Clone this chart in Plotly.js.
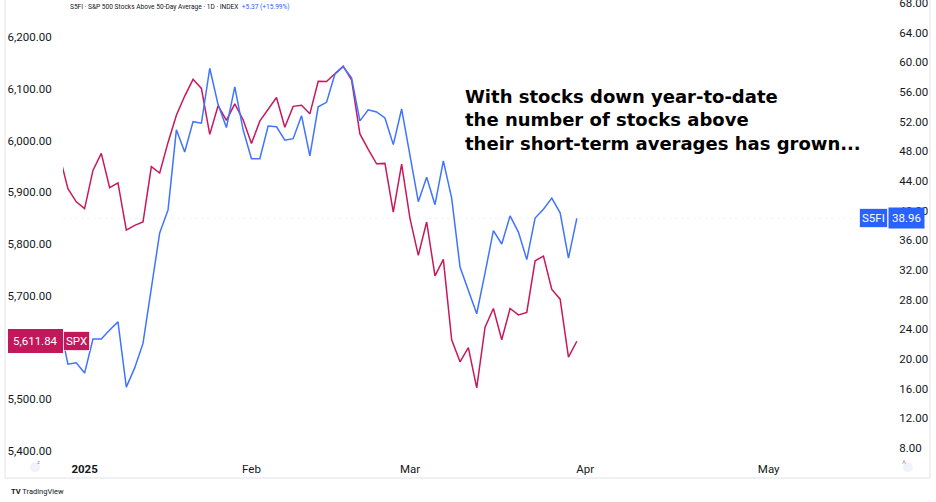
<!DOCTYPE html>
<html>
<head>
<meta charset="utf-8">
<script src="https://cdn.plot.ly/plotly-3.0.1.min.js"></script>
<style>
  html, body { margin: 0; padding: 0; background: #ffffff; }
  #chart { width: 936px; height: 502px; }
</style>
</head>
<body>
<div id="chart"></div>
<script>
// ---- data ----
const dates = [
  '2024-12-27','2024-12-30','2024-12-31',
  '2025-01-02','2025-01-03','2025-01-06','2025-01-07','2025-01-08','2025-01-10',
  '2025-01-13','2025-01-14','2025-01-15','2025-01-16','2025-01-17',
  '2025-01-21','2025-01-22','2025-01-23','2025-01-24',
  '2025-01-27','2025-01-28','2025-01-29','2025-01-30','2025-01-31',
  '2025-02-03','2025-02-04','2025-02-05','2025-02-06','2025-02-07',
  '2025-02-10','2025-02-11','2025-02-12','2025-02-13','2025-02-14',
  '2025-02-18','2025-02-19','2025-02-20','2025-02-21',
  '2025-02-24','2025-02-25','2025-02-26','2025-02-27','2025-02-28',
  '2025-03-03','2025-03-04','2025-03-05','2025-03-06','2025-03-07',
  '2025-03-10','2025-03-11','2025-03-12','2025-03-13','2025-03-14',
  '2025-03-17','2025-03-18','2025-03-19','2025-03-20','2025-03-21',
  '2025-03-24','2025-03-25','2025-03-26','2025-03-27','2025-03-28',
  '2025-03-31'
];

const spx = [
  5970.84, 5906.94, 5881.63,
  5868.55, 5942.47, 5975.38, 5909.03, 5918.25, 5827.04,
  5836.22, 5842.91, 5949.91, 5937.34, 5996.66,
  6049.24, 6086.37, 6118.71, 6101.24,
  6012.28, 6067.70, 6039.31, 6071.17, 6040.53,
  5994.57, 6037.88, 6061.48, 6083.57, 6025.99,
  6066.44, 6068.50, 6051.97, 6115.07, 6114.63,
  6129.58, 6144.15, 6117.52, 6013.13,
  5983.25, 5955.25, 5956.06, 5861.57, 5954.50,
  5849.72, 5778.15, 5842.63, 5738.52, 5770.20,
  5614.56, 5572.07, 5599.30, 5521.52, 5638.94,
  5675.12, 5614.66, 5675.29, 5662.89, 5667.56,
  5767.57, 5776.65, 5712.20, 5693.31, 5580.94,
  5611.84
];

const s5fi = [
  24.7, 19.3, 19.5,
  18.1, 22.7, 22.7, 23.9, 25.0, 16.2,
  18.8, 22.1, 29.3, 37.0, 40.1,
  50.9, 47.9, 52.0, 51.8,
  59.2, 54.3, 51.2, 56.7, 50.9,
  47.0, 47.0, 51.4, 51.3, 49.5,
  49.7, 52.8, 47.4, 54.0, 54.6,
  58.4, 59.4, 57.9, 52.1,
  53.6, 53.3, 52.5, 48.9, 53.7,
  47.5, 41.2, 44.5, 40.8, 46.7,
  41.7, 32.4, 29.3, 26.1, 31.6,
  37.3, 35.5, 39.3, 37.1, 33.4,
  39.0, 40.2, 41.7, 39.7, 33.59,
  38.96
];

const holidays = ['2024-12-25', '2025-01-01', '2025-01-09', '2025-01-20', '2025-02-17'];

const xTickVals = ['2025-01-02', '2025-02-03', '2025-03-03', '2025-04-01', '2025-05-01'];
const xTickText = ['<b>2025</b>', 'Feb', 'Mar', 'Apr', 'May'];

const headerName = 'S5FI · S&P 500 Stocks Above 50-Day Average · 1D · INDEX';
const headerChange = '+5.37 (+15.99%)';
const noteLines = ['With stocks down year-to-date', 'the number of stocks above', 'their short-term averages has grown...'];

// ---- styling ----
const RED = '#C8185C';
const RED_BOX = '#C2185B';
const BLUE = '#3F74FF';
const BLUE_BOX = '#2962FF';
const TXT = '#131722';
const AXFONT = { family: 'Roboto, sans-serif', size: 11.5, color: TXT };

const lastSpx = spx[spx.length - 1];
const lastS5 = s5fi[s5fi.length - 1];

const traces = [
  {
    x: dates, y: spx, type: 'scatter', mode: 'lines', name: 'SPX',
    line: { color: RED, width: 1.5 }, yaxis: 'y', hoverinfo: 'skip'
  },
  {
    x: dates, y: s5fi, type: 'scatter', mode: 'lines', name: 'S5FI',
    line: { color: BLUE, width: 1.5 }, yaxis: 'y2', hoverinfo: 'skip'
  }
];

const layout = {
  width: 936, height: 502,
  margin: { l: 63, r: 48, t: 0, b: 48, pad: 0 },
  paper_bgcolor: '#ffffff', plot_bgcolor: '#ffffff',
  showlegend: false,
  xaxis: {
    type: 'date',
    range: ['2024-12-27 09:50', '2025-05-21 07:12'],
    rangebreaks: [{ bounds: ['sat', 'mon'] }, { values: holidays }],
    tickmode: 'array', tickvals: xTickVals, ticktext: xTickText,
    showgrid: false, zeroline: false, showline: false,
    ticks: 'outside', ticklen: 4, tickcolor: 'rgba(0,0,0,0)',
    tickfont: { family: 'Roboto, sans-serif', size: 11.5, color: TXT },
    automargin: false, fixedrange: true
  },
  yaxis: {
    side: 'left',
    range: [5393.6, 6272.3],
    tickmode: 'linear', tick0: 0, dtick: 100,
    tickformat: ',.2f',
    showgrid: false, zeroline: false, showline: false,
    ticks: 'outside', ticklen: 8, tickcolor: 'rgba(0,0,0,0)',
    ticklabeloverflow: 'allow',
    tickfont: AXFONT, automargin: false, fixedrange: true
  },
  yaxis2: {
    side: 'right', overlaying: 'y',
    range: [7.19, 68.4],
    tickmode: 'linear', tick0: 0, dtick: 4,
    tickformat: '.2f',
    showgrid: false, zeroline: false, showline: false,
    ticks: 'outside', ticklen: 8, tickcolor: 'rgba(0,0,0,0)',
    ticklabeloverflow: 'allow',
    tickfont: AXFONT, automargin: false, fixedrange: true
  },
  shapes: [
    // widget border
    { type: 'rect', xref: 'paper', yref: 'paper', x0: -0.0703, x1: 1.0509, y0: -0.0529, y1: 1.01,
      line: { color: '#e0e3eb', width: 1 }, fillcolor: 'rgba(0,0,0,0)', layer: 'below' },
    // faint last-value price line of S5FI
    { type: 'line', xref: 'paper', yref: 'y2', x0: 0, x1: 1, y0: lastS5, y1: lastS5,
      line: { color: 'rgba(41,98,255,0.07)', width: 1, dash: 'dot' }, layer: 'below' },
    // little corner buttons on the time scale
    { type: 'circle', xref: 'paper', yref: 'paper', xsizemode: 'pixel', ysizemode: 'pixel',
      xanchor: -0.034, yanchor: -0.029, x0: -5, x1: 5, y0: -5, y1: 5,
      fillcolor: '#f0f3fa', line: { width: 0 } },
    { type: 'circle', xref: 'paper', yref: 'paper', xsizemode: 'pixel', ysizemode: 'pixel',
      xanchor: 1.024, yanchor: -0.029, x0: -5, x1: 5, y0: -5, y1: 5,
      fillcolor: '#f0f3fa', line: { width: 0 } }
  ],
  annotations: [
    // header
    { xref: 'paper', yref: 'paper', x: 0.006, y: 1, xanchor: 'left', yanchor: 'top', yshift: -1,
      showarrow: false, align: 'left',
      text: headerName + '  <span style="color:' + BLUE_BOX + '">' + headerChange + '</span>',
      font: { family: 'Roboto, sans-serif', size: 6.6, color: TXT } },
    // note
    { xref: 'paper', yref: 'paper', x: 0.485, y: 0.736, xanchor: 'left', yanchor: 'middle',
      showarrow: false, align: 'left',
      text: noteLines.join('<br>'),
      font: { family: 'DejaVu Sans, sans-serif', size: 18, color: '#000000', weight: 'bold' } },
    // SPX value label (left scale)
    { xref: 'paper', yref: 'y', x: 0, y: lastSpx, xanchor: 'right', yanchor: 'middle',
      showarrow: false, text: '5,611.84', bgcolor: RED_BOX, borderpad: 3,
      bordercolor: RED_BOX, borderwidth: 2,
      font: { family: 'Roboto, sans-serif', size: 11.5, color: '#ffffff' } },
    { xref: 'paper', yref: 'y', x: 0, y: lastSpx, xanchor: 'left', yanchor: 'middle',
      showarrow: false, text: 'SPX', bgcolor: RED_BOX, borderpad: 2,
      bordercolor: 'rgba(255,255,255,0.7)', borderwidth: 1,
      font: { family: 'Roboto, sans-serif', size: 11.5, color: '#ffffff' } },
    // S5FI labels (right scale)
    { xref: 'paper', yref: 'y2', x: 1, y: lastS5, xanchor: 'right', yanchor: 'middle',
      showarrow: false, text: 'S5FI', bgcolor: BLUE_BOX, borderpad: 2,
      bordercolor: 'rgba(255,255,255,0.7)', borderwidth: 1,
      font: { family: 'Roboto, sans-serif', size: 11.5, color: '#ffffff' } },
    { xref: 'paper', yref: 'y2', x: 1, y: lastS5, xanchor: 'left', yanchor: 'middle',
      showarrow: false, text: lastS5.toFixed(2), bgcolor: BLUE_BOX, borderpad: 3,
      font: { family: 'Roboto, sans-serif', size: 11.5, color: '#ffffff' } },
    // TradingView credit
    { xref: 'paper', yref: 'paper', x: -0.066, y: -0.082, xanchor: 'left', yanchor: 'middle',
      showarrow: false, align: 'left',
      text: '<b>TV</b> TradingView',
      font: { family: 'Roboto, sans-serif', size: 7.5, color: TXT } },
    // corner button glyphs
    { xref: 'paper', yref: 'paper', x: -0.034, y: -0.029, showarrow: false, text: 'z',
      font: { family: 'Roboto, sans-serif', size: 6, color: '#9598a1' } },
    { xref: 'paper', yref: 'paper', x: 1.024, y: -0.029, showarrow: false, text: 'A',
      font: { family: 'Roboto, sans-serif', size: 6, color: '#9598a1' } }
  ]
};

Plotly.newPlot('chart', traces, layout, { displayModeBar: false, staticPlot: true });
</script>
</body>
</html>
